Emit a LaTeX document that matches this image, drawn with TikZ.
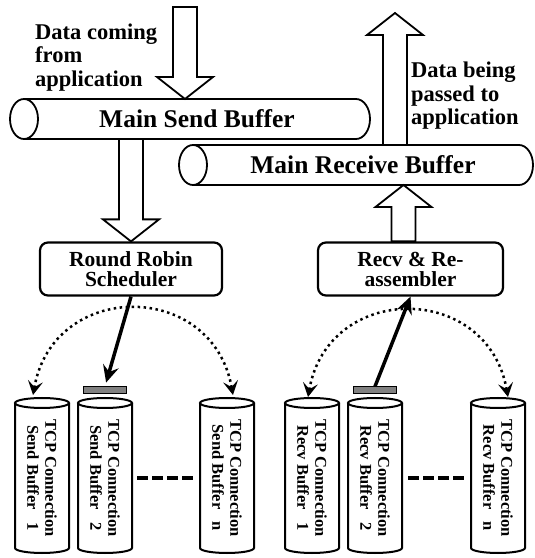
\documentclass[tikz,border=0pt]{standalone}
\usepackage{fontspec}
\setmainfont{Liberation Serif}
\usetikzlibrary{arrows.meta,calc,positioning}

\tikzset{
  pipe/.style = {draw, line width=1.8pt},
  mainbuf/.style = {rectangle, minimum height=40pt, inner sep=0pt, outer sep=0pt,
    font=\fontsize{25.5}{28}\selectfont\bfseries},
  conbuf/.style = {rectangle, rotate=-90, minimum width=150pt, minimum height=54pt,
    inner sep=0pt, outer sep=0pt, align=center,
    font=\fontsize{16.5}{18}\selectfont\bfseries},
  block/.style = {draw, rounded corners=8pt, line width=2.2pt, align=center,
    minimum height=53pt, font=\fontsize{21.5}{20}\selectfont\bfseries},
  tbar/.style = {draw, fill=gray, line width=0.6pt, minimum width=43pt,
    minimum height=7pt, inner sep=0pt},
  note/.style = {align=left, inner sep=0pt,
    font=\fontsize{22.5}{23.5}\selectfont\bfseries},
  fat arrow/.style = {draw, fill=white, line width=1.8pt, to path={
    let \p1=(\tikztostart), \p2=(\tikztotarget),
        \n1={ifthenelse(\y2>\y1,1,-1)} in
    ({\x1-12pt},\y1) -- ({\x1-12pt},{\y2-\n1*22pt}) -- ({\x1-28pt},{\y2-\n1*22pt})
    -- (\x1,\y2) -- ({\x1+28pt},{\y2-\n1*22pt}) -- ({\x1+12pt},{\y2-\n1*22pt})
    -- ({\x1+12pt},\y1) -- cycle}},
  pick/.style = {-{Stealth[length=17pt,width=16pt,inset=6pt]}, line width=3.5pt},
  dotarc/.style = {{Stealth[length=14pt,width=15pt,inset=6pt]}-{Stealth[length=14pt,width=15pt,inset=6pt]},
    line width=2.5pt, dash pattern=on 2.5pt off 3.5pt},
  gapdash/.style = {line width=4pt, dash pattern=on 11pt off 4pt}
}

% lying pipe round a main buffer node
\newcommand{\hpipe}[1]{%
  \draw [pipe] (#1.west) ellipse [x radius=14pt, y radius=20pt];
  \draw [pipe] (#1.north west) -- ([xshift=-14pt]#1.north east)
    arc [start angle=90, end angle=-90, x radius=14pt, y radius=20pt]
    -- (#1.south west);}
% standing pipe round a connection buffer node
\newcommand{\vpipe}[1]{%
  \draw [pipe, line width=2pt] (#1.west) ellipse [x radius=27pt, y radius=5pt];
  \draw [pipe, line width=2pt] ([xshift=-27pt]#1.west) -- ([xshift=-27pt,yshift=5pt]#1.east)
    arc [start angle=180, end angle=360, x radius=27pt, y radius=5pt]
    -- ([xshift=27pt]#1.west);}

\begin{document}
\begin{tikzpicture}[x=1pt, y=1pt]
    \useasboundingbox (0,0) rectangle (535,558);

    % main buffers
    \node [mainbuf, minimum width=346pt] (sendbuf) at (197,439) {Main Send Buffer};
    \node [mainbuf, minimum width=340pt] (recvbuf) at (363,393) {Main Receive Buffer};
    \hpipe{sendbuf}
    \hpipe{recvbuf}

    % scheduler and re-assembler
    \node [block, minimum width=182pt] (rrs) at (131,289) {Round Robin\\Scheduler};
    \node [block, minimum width=185pt] (recv) at (410.5,289) {Recv \& Re-\\assembler};

    % per connection buffers
    \node [conbuf] (sb1) at (42,80) {TCP Connection\\Send Buffer~~~1};
    \node [conbuf] (sb2) at (105,80) {TCP Connection\\Send Buffer~~~2};
    \node [conbuf] (sbn) at (227,80) {TCP Connection\\Send Buffer~~~n};
    \node [conbuf] (rb1) at (312,80) {TCP Connection\\Recv Buffer~~~1};
    \node [conbuf] (rb2) at (375,80) {TCP Connection\\Recv Buffer~~~2};
    \node [conbuf] (rbn) at (498,80) {TCP Connection\\Recv Buffer~~~n};
    \foreach \b in {sb1,sb2,sbn,rb1,rb2,rbn} {
        \vpipe{\b}
    }

    \node [tbar, above=9pt of sb2.west] (sbar) {};
    \node [tbar, above=9pt of rb2.west] (rbar) {};

    % application side
    \coordinate (in) at (185,551);
    \coordinate (out) at (395,545);
    \node [note, anchor=west] (intext) at (35,500.5) {Data coming\\from\\application};
    \node [note, anchor=west] (outtext) at (411,462) {Data being\\passed to\\application};

    \draw [fat arrow] (in) to (in |- sendbuf.north);
    \draw [fat arrow] (rrs.north |- sendbuf.south) to (rrs.north);
    \draw [fat arrow] ([xshift=-7pt]recv.north) to ([xshift=-7pt]recv.north |- recvbuf.south);
    \draw [fat arrow] (out |- recvbuf.north) to (out);

    % scheduling
    \draw [pick, shorten >=4pt] (rrs.south) -- (sbar.north);
    \draw [pick] (rbar.north) -- (recv.south);
    \draw [dotarc] ([xshift=-9pt,yshift=8pt]sb1.west) to[out=80,in=100,looseness=1.5] ([xshift=6pt,yshift=8pt]sbn.west);
    \draw [dotarc] ([xshift=-4pt,yshift=6pt]rb1.west) to[out=80,in=100,looseness=1.5] ([xshift=10pt,yshift=6pt]rbn.west);

    \draw [gapdash, shorten <=5pt, shorten >=7pt] (sb2.north) -- (sbn.south);
    \draw [gapdash, shorten <=6pt, shorten >=5pt] (rb2.north) -- (rbn.south);
\end{tikzpicture}
\end{document}
